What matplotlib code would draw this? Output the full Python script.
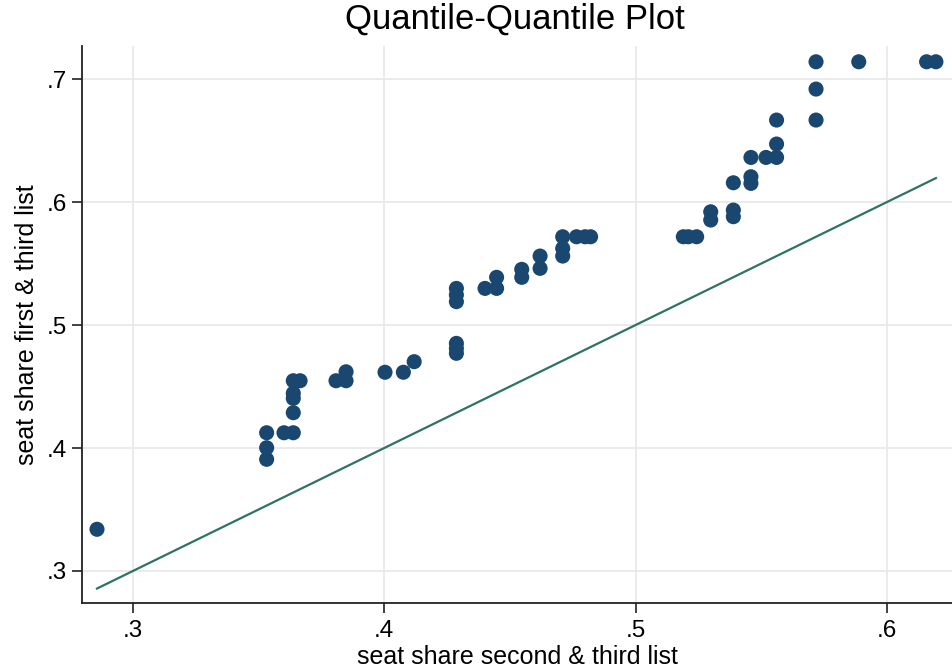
import matplotlib
matplotlib.use("Agg")
import matplotlib.pyplot as plt
import numpy as np

plt.rcParams['font.family'] = ['Liberation Sans', 'DejaVu Sans']

# Quantile pairs (second & third list, first & third list)
x_vals = [0.2857,
          0.3532, 0.3532, 0.3532,
          0.3601, 0.3638, 0.3638, 0.3638, 0.3638, 0.3638, 0.3665,
          0.3808, 0.3848, 0.3848,
          0.4003, 0.4076, 0.4119,
          0.4287, 0.4287, 0.4287, 0.4287, 0.4287, 0.4287,
          0.4401, 0.4447, 0.4447,
          0.4547, 0.4547, 0.4620, 0.4620,
          0.4710, 0.4710, 0.4710, 0.4765, 0.4799, 0.4821,
          0.5190, 0.5210, 0.5243,
          0.5299, 0.5299, 0.5389, 0.5389, 0.5389,
          0.5459, 0.5459, 0.5459, 0.5519, 0.5561, 0.5561, 0.5561,
          0.5718, 0.5718, 0.5718, 0.5888, 0.6158, 0.6195]
y_vals = [0.3339,
          0.4124, 0.4002, 0.3908,
          0.4124, 0.4124, 0.4287, 0.4404, 0.4445, 0.4547, 0.4547,
          0.4547, 0.4547, 0.4620,
          0.4616, 0.4616, 0.4702,
          0.4851, 0.4810, 0.4770, 0.5298, 0.5245, 0.5190,
          0.5298, 0.5298, 0.5388,
          0.5388, 0.5453, 0.5461, 0.5561,
          0.5561, 0.5623, 0.5718, 0.5718, 0.5718, 0.5718,
          0.5718, 0.5718, 0.5718,
          0.5854, 0.5921, 0.5881, 0.5935, 0.6157,
          0.6152, 0.6206, 0.6363, 0.6363, 0.6363, 0.6472, 0.6667,
          0.6667, 0.6919, 0.7141, 0.7141, 0.7141, 0.7141]

x_ticks = [0.3, 0.4, 0.5, 0.6]
y_ticks = [0.3, 0.4, 0.5, 0.6, 0.7]
tick_labels_x = ['.3', '.4', '.5', '.6']
tick_labels_y = ['.3', '.4', '.5', '.6', '.7']

fig = plt.figure(figsize=(9.53, 6.69), dpi=100)
ax = fig.add_axes([0.0857, 0.0982, 0.9143, 0.8328])

ax.grid(True, color='#e8e8e8', linewidth=1.2, zorder=0)
ax.set_axisbelow(True)

lo, hi = min(x_vals), max(x_vals)
ax.plot([lo, hi], [lo, hi], color='#2e7363', linewidth=1.6, zorder=2)
ax.scatter(x_vals, y_vals, s=118, color='#1a476f', edgecolors='none', zorder=3)

ax.set_xlim(0.2796, 0.6263)
ax.set_ylim(0.2737, 0.7268)
ax.set_xticks(x_ticks)
ax.set_xticklabels(tick_labels_x)
ax.set_yticks(y_ticks)
ax.set_yticklabels(tick_labels_y)
ax.tick_params(axis='both', direction='out', length=7, width=1.2, labelsize=17.5, color='#222222')
ax.tick_params(axis='x', pad=5)

for side in ['top', 'right']:
    ax.spines[side].set_visible(False)
for side in ['left', 'bottom']:
    ax.spines[side].set_linewidth(1.3)
    ax.spines[side].set_color('#222222')

ax.set_xlabel('seat share second & third list', fontsize=18, labelpad=2)
ax.set_ylabel('seat share first & third list', fontsize=18, labelpad=6)
fig.text(0.540, 0.972, 'Quantile-Quantile Plot', ha='center', va='center', fontsize=25)

fig.savefig('out.png', dpi=100)
